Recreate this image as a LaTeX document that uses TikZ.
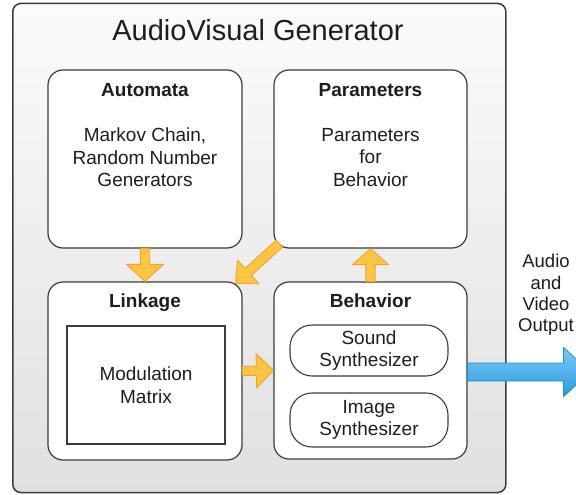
\documentclass[tikz,border=0pt]{standalone}
\usepackage{fontspec}
\setmainfont{Liberation Sans}
\usetikzlibrary{calc,backgrounds}
\definecolor{txt}{HTML}{1E1E1E}
\definecolor{edge}{HTML}{3C3C3C}
\definecolor{yfill}{HTML}{FDC445}
\definecolor{yedge}{HTML}{EFA52A}
\definecolor{btop}{HTML}{7ACBF5}
\definecolor{bbot}{HTML}{2C98DD}
\definecolor{bedge}{HTML}{2A8FD0}
\definecolor{gtop}{HTML}{FBFBFB}
\definecolor{gbot}{HTML}{E0E0E0}
\newcommand{\avtitle}{\fontsize{29}{34}\selectfont}
\newcommand{\avhead}{\fontsize{19}{22.5}\selectfont\bfseries}
\newcommand{\avbody}{\fontsize{19}{22.5}\selectfont}
\newcommand{\avsmall}{\fontsize{18.5}{21.2}\selectfont}
% style, from, to, shaft half width, head half width, head length
\newcommand{\blockarrow}[6]{%
  \coordinate (ba-c) at ($(#3)!#6!(#2)$);
  \draw[#1] ($(#2)!#4!90:(#3)$) -- ($(ba-c)!#4!90:(#3)$) -- ($(ba-c)!#5!90:(#3)$)
    -- (#3) -- ($(ba-c)!#5!-90:(#3)$) -- ($(ba-c)!#4!-90:(#3)$)
    -- ($(#2)!#4!-90:(#3)$) -- cycle;
}
\tikzset{
  outerbox/.style={draw=edge, line width=1.5pt, rounded corners=8pt, inner sep=0pt,
    top color=gtop, bottom color=gbot, minimum width=493pt, minimum height=489pt},
  box/.style={draw=edge, line width=1.2pt, fill=white, rounded corners=15pt, inner sep=0pt,
    minimum width=194pt, minimum height=178pt},
  sqbox/.style={draw=edge, line width=1.2pt, fill=white, inner sep=0pt, align=center,
    font=\avbody, text=txt, minimum width=158pt, minimum height=118pt},
  pill/.style={draw=edge, line width=1.1pt, fill=white, rounded corners=22pt, inner sep=0pt,
    align=center, font=\avbody, text=txt, minimum width=158pt},
  head/.style={font=\avhead, text=txt, anchor=base, inner sep=0pt},
  body/.style={font=\avbody, text=txt, align=center, inner sep=0pt},
  yarrow/.style={draw=yedge, line width=0.9pt, fill=yfill, line join=round},
  barrow/.style={draw=bedge, line width=0.8pt, top color=btop, bottom color=bbot, line join=round},
}
\begin{document}
\begin{tikzpicture}[x=1pt,y=-1pt]
\path[fill=white, use as bounding box] (0,0) rectangle (576,495);

% outer container
\node[outerbox] (avg) at (259.3,248) {};
\begin{scope}[on background layer]
  \foreach \w/\o in {8/0.05,6/0.06,4/0.08}
    \draw[line width=\w pt, black, opacity=\o, rounded corners=8pt]
      ($(avg.south west)+(0,-1.5)$) rectangle ($(avg.north east)+(0,-1.5)$);
\end{scope}
\node[font=\avtitle, text=txt, anchor=base, inner sep=0pt] (title) at (258,40.7) {AudioVisual Generator};

% four blocks
\node[box] (automata) at (145,159) {};
\node[box, minimum width=193pt] (parameters) at (370.5,159) {};
\node[box] (linkage) at (145,371) {};
\node[box, minimum width=193pt, minimum height=177pt] (behavior) at (370.5,370.5) {};

\node[head] (automataT) at (145,96) {Automata};
\node[body] (automataB) at (145,157.5) {Markov Chain,\\Random Number\\Generators};
\node[head] (parametersT) at (370.5,96) {Parameters};
\node[body] (parametersB) at (370.5,157.5) {Parameters\\for\\Behavior};
\node[head] (linkageT) at (145,307.5) {Linkage};
\node[head] (behaviorT) at (370.5,307.5) {Behavior};

\node[sqbox] (matrix) at (146,385) {Modulation\\Matrix};
\node[pill, minimum height=51pt] (sound) at (369,350.5) {Sound\\Synthesizer};
\node[pill, minimum height=54pt] (image) at (369,420) {Image\\Synthesizer};

% yellow block arrows
\blockarrow{yarrow}{automata.south}{linkage.north}{4.7pt}{18.5pt}{17pt}
\blockarrow{yarrow}{behavior.north}{parameters.south}{4.7pt}{18pt}{16pt}
\blockarrow{yarrow}{linkage.east}{behavior.west}{4.6pt}{17pt}{17pt}
\coordinate (dtail) at ($(parameters.south west)+(6,-5)$);
\coordinate (dtip) at ($(linkage.north east)+(-7,2)$);
\blockarrow{yarrow}{dtail}{dtip}{4.7pt}{16pt}{17pt}

% output
\coordinate (outtail) at ($(behavior.east)+(0,1.5)$);
\coordinate (outtip) at ($(behavior.east)+(123,1.5)$);
\blockarrow{barrow}{outtail}{outtip}{9pt}{24.5pt}{27pt}
\node[font=\avsmall, text=txt, align=center, inner sep=0pt] (outlabel) at (546,295) {Audio\\and\\Video\\Output};
\end{tikzpicture}
\end{document}
